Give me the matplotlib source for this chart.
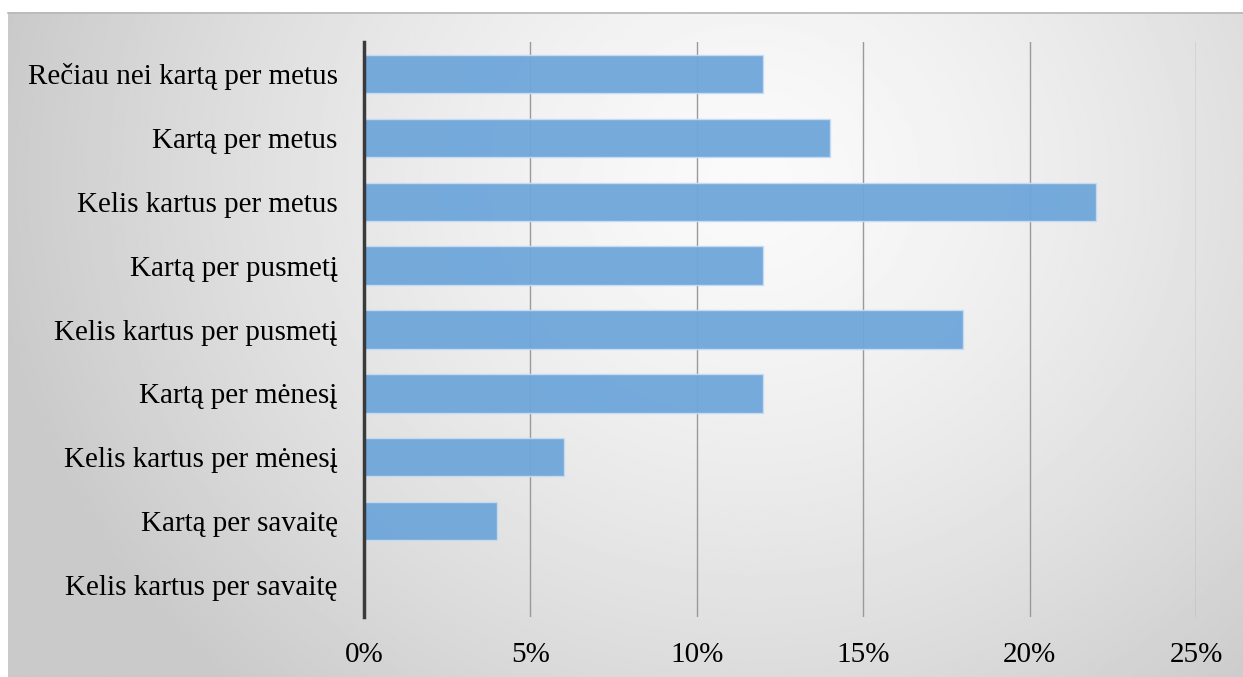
import numpy as np
import matplotlib
matplotlib.use("Agg")
import matplotlib.pyplot as plt
from matplotlib.ticker import FuncFormatter

categories = [
    "Rečiau nei kartą per metus",
    "Kartą per metus",
    "Kelis kartus per metus",
    "Kartą per pusmetį",
    "Kelis kartus per pusmetį",
    "Kartą per mėnesį",
    "Kelis kartus per mėnesį",
    "Kartą per savaitę",
    "Kelis kartus per savaitę",
]
shares = [12, 14, 22, 12, 18, 12, 6, 4, 0]  # percent of respondents
x_ticks = [0, 5, 10, 15, 20, 25]

plt.rcParams["font.family"] = ["Liberation Serif", "DejaVu Serif"]

W, H = 1243, 677
fig = plt.figure(figsize=(W / 100, H / 100), dpi=100)
fig.patch.set_facecolor("white")

# radial grey gradient panel behind the chart
bg = fig.add_axes([8 / W, 0, 1 - 8 / W, 1 - 12 / H], zorder=0)
ny, nx = 300, 600
yy, xx = np.mgrid[0:ny, 0:nx]
cx, cy = 0.6 * nx, 0.25 * ny
r = np.sqrt(((xx - cx) / (0.62 * nx)) ** 2 + ((yy - cy) / (1.05 * ny)) ** 2)
r = np.clip(r, 0, 1)
shade = 0.98 - 0.19 * r ** 1.4
bg.imshow(shade, cmap="gray", vmin=0, vmax=1, aspect="auto",
          extent=[0, 1, 1, 0], interpolation="bilinear")
bg.set_axis_off()
# thin top border of the panel
fig.add_artist(plt.Line2D([8 / W, 1], [1 - 12.5 / H, 1 - 12.5 / H],
                          color="#b8b8b8", lw=1.2, transform=fig.transFigure))

ax = fig.add_axes([364 / W, 1 - 617 / H, (1196 - 364) / W, (617 - 42) / H], zorder=1)
ax.patch.set_alpha(0)

y = np.arange(len(categories))
ax.barh(y, shares, height=0.6, color="#6ea6da", alpha=0.95,
        edgecolor="#c6dcf2", linewidth=1.0, zorder=3)

ax.set_xlim(0, 25)
ax.set_ylim(len(categories) - 0.5, -0.5)
ax.set_xticks(x_ticks)
ax.xaxis.set_major_formatter(FuncFormatter(lambda v, p: f"{v:.0f}%"))
ax.set_yticks(y)
ax.set_yticklabels(categories)

ax.grid(axis="x", color="#9a9a9a", linewidth=1.0, zorder=1)
ax.set_axisbelow(True)
for s in ["top", "right", "bottom"]:
    ax.spines[s].set_visible(False)
ax.spines["left"].set_color("#3a3a3a")
ax.spines["left"].set_linewidth(2.5)
ax.spines["left"].set_zorder(4)

ax.tick_params(axis="both", length=0, labelsize=21, colors="black")
ax.tick_params(axis="y", pad=19)
ax.tick_params(axis="x", pad=18)

fig.savefig("out.png", dpi=100)
